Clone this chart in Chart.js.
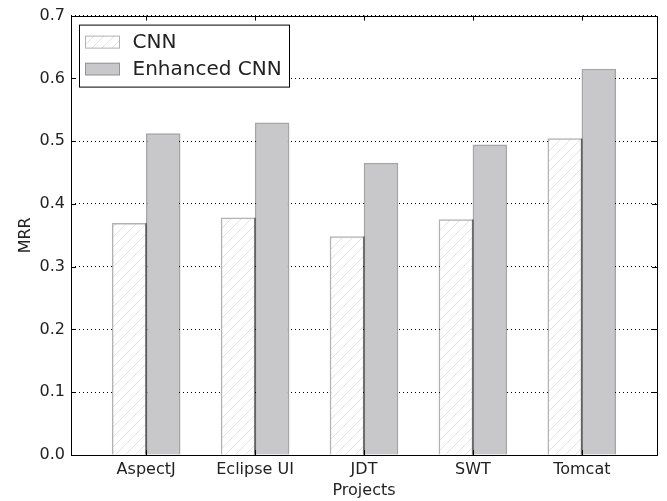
<!DOCTYPE html>
<html>
<head>
<meta charset="utf-8">
<script src="https://cdn.jsdelivr.net/npm/chart.js@4"></script>
<style>
  body { margin: 0; background: #fff; }
  #wrap { width: 667px; height: 501px; }
</style>
</head>
<body>
<div id="wrap"><canvas id="myChart" width="667" height="501"></canvas></div>
<script>
const projects = ["AspectJ", "Eclipse UI", "JDT", "SWT", "Tomcat"];
const cnnMrr = [0.369, 0.378, 0.348, 0.375, 0.504];
const enhancedMrr = [0.512, 0.529, 0.465, 0.494, 0.615];
const yTicks = [0, 0.1, 0.2, 0.3, 0.4, 0.5, 0.6, 0.7];

const FONT = "'DejaVu Sans', sans-serif";

// light diagonal hatch for the CNN bars
function makeHatch() {
  const c = document.createElement("canvas");
  c.width = 10;
  c.height = 10;
  const g = c.getContext("2d");
  g.fillStyle = "#fff";
  g.fillRect(0, 0, 10, 10);
  g.strokeStyle = "#e2e2e2";
  g.lineWidth = 1;
  g.beginPath();
  g.moveTo(0, 10); g.lineTo(10, 0);
  g.moveTo(-5, 5); g.lineTo(5, -5);
  g.moveTo(5, 15); g.lineTo(15, 5);
  g.stroke();
  return g.createPattern(c, "repeat");
}
const hatch = makeHatch();

const frameAndTicks = {
  id: "frameAndTicks",
  afterDatasetsDraw(chart) {
    const { ctx, chartArea: a, scales } = chart;
    ctx.save();
    // darker seam where the two bars of a group meet
    ctx.strokeStyle = "rgba(0,0,0,0.45)";
    ctx.lineWidth = 1.5;
    ctx.beginPath();
    enhancedMrr.forEach((v, i) => {
      const x = scales.x.getPixelForValue(i);
      ctx.moveTo(x, a.bottom);
      ctx.lineTo(x, scales.y.getPixelForValue(Math.min(v, cnnMrr[i])));
    });
    ctx.stroke();

    ctx.strokeStyle = "#000";
    ctx.lineWidth = 1;
    ctx.beginPath();
    yTicks.forEach((v) => {
      const y = Math.round(scales.y.getPixelForValue(v)) + 0.5;
      ctx.moveTo(a.left, y); ctx.lineTo(a.left + 5, y);
      ctx.moveTo(a.right, y); ctx.lineTo(a.right - 5, y);
    });
    projects.forEach((p, i) => {
      const x = Math.round(scales.x.getPixelForValue(i)) + 0.5;
      ctx.moveTo(x, a.bottom); ctx.lineTo(x, a.bottom - 5);
      ctx.moveTo(x, a.top); ctx.lineTo(x, a.top + 5);
    });
    ctx.stroke();
    ctx.strokeRect(Math.round(a.left) + 0.5, Math.round(a.top) + 0.5,
      Math.round(a.right - a.left), Math.round(a.bottom - a.top));

    // legend box
    const lx = a.left + 8.5, ly = a.top + 9.5, lw = 210, lh = 62;
    ctx.fillStyle = "#fff";
    ctx.fillRect(lx, ly, lw, lh);
    ctx.strokeRect(lx, ly, lw, lh);
    const items = chart.data.datasets;
    ctx.font = "20px " + FONT;
    ctx.textBaseline = "middle";
    items.forEach((ds, i) => {
      const cy = ly + 17 + i * 27;
      ctx.fillStyle = ds.backgroundColor;
      ctx.fillRect(lx + 6, cy - 6, 34, 12);
      ctx.strokeStyle = ds.borderColor;
      ctx.strokeRect(lx + 6, cy - 6, 34, 12);
      ctx.fillStyle = "#222";
      ctx.fillText(ds.label, lx + 53, cy + 1);
    });
    ctx.restore();
  }
};

const config = {
  type: "bar",
  data: {
    datasets: [
      {
        label: "CNN",
        data: cnnMrr.map((v, i) => ({ x: i, y: v })),
        backgroundColor: hatch,
        borderColor: "rgba(0,0,0,0.3)",
        borderWidth: 1.5,
        barThickness: 34,
      },
      {
        label: "Enhanced CNN",
        data: enhancedMrr.map((v, i) => ({ x: i, y: v })),
        backgroundColor: "#c8c8ca",
        borderColor: "rgba(0,0,0,0.35)",
        borderWidth: 1.5,
        barThickness: 34,
      },
    ],
  },
  options: {
    responsive: false,
    animation: false,
    layout: { padding: { top: 15, right: 10, left: 0, bottom: 0 } },
    plugins: { legend: { display: false }, tooltip: { enabled: false } },
    scales: {
      x: {
        type: "linear",
        offset: false,
        min: -0.69,
        max: 4.69,
        afterBuildTicks: (s) => { s.ticks = projects.map((p, i) => ({ value: i })); },
        afterFit: (s) => { s.height = 46; },
        grid: { display: false },
        border: { display: false },
        ticks: {
          callback: (v) => projects[v],
          font: { family: FONT, size: 16 },
          color: "#222",
          padding: -3,
          maxRotation: 0,
        },
        title: {
          display: true,
          text: "Projects",
          font: { family: FONT, size: 16 },
          color: "#222",
          padding: { top: 0, bottom: 1 },
        },
      },
      y: {
        min: 0,
        max: 0.7,
        afterBuildTicks: (s) => { s.ticks = yTicks.map((v) => ({ value: v })); },
        afterFit: (s) => { s.width = 71; },
        grid: {
          color: "#000",
          lineWidth: 1,
          drawTicks: false,
        },
        border: { display: false, dash: [1, 3] },
        ticks: {
          callback: (v) => v.toFixed(1),
          font: { family: FONT, size: 16 },
          color: "#222",
          padding: 6,
        },
        title: {
          display: true,
          text: "MRR",
          font: { family: FONT, size: 16 },
          color: "#222",
          padding: { top: 16, bottom: 0 },
        },
      },
    },
  },
  plugins: [frameAndTicks],
};

const myChart = new Chart(document.getElementById("myChart"), config);
</script>
</body>
</html>
